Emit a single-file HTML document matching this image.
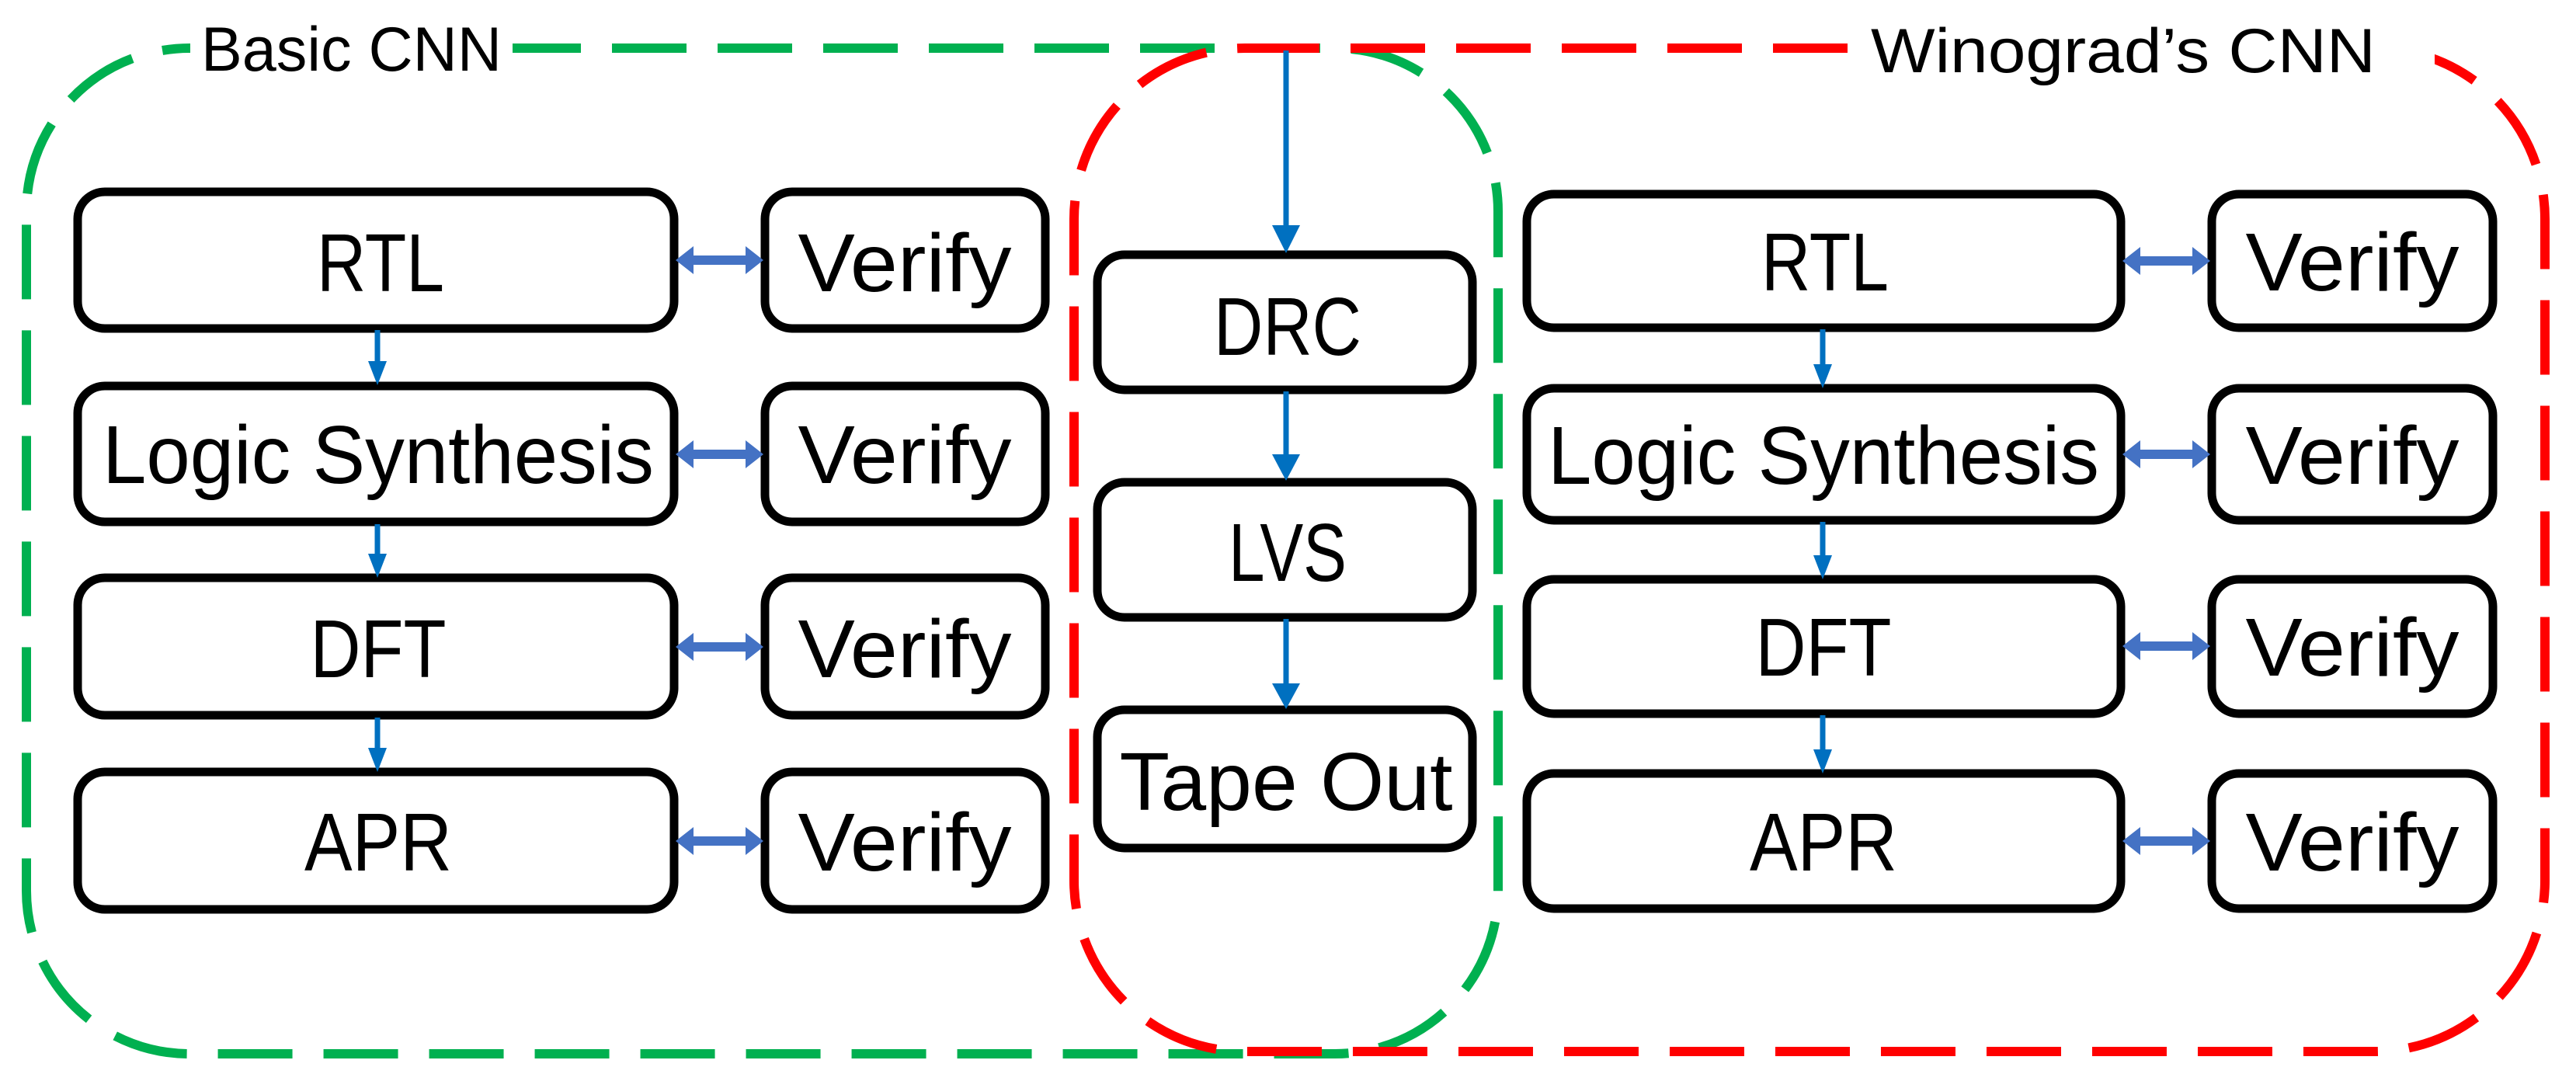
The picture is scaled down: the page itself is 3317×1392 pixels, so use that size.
<!DOCTYPE html>
<html><head><meta charset="utf-8"><style>
html,body{margin:0;padding:0;background:#fff;}
svg{display:block;}
text{font-family:"Liberation Sans",sans-serif;fill:#000;}
</style></head><body>
<svg width="3317" height="1392" viewBox="0 0 3317 1392" xmlns="http://www.w3.org/2000/svg">
<defs>
<marker id="ad" markerWidth="4" markerHeight="4" refX="2" refY="2" orient="auto" markerUnits="strokeWidth"><path d="M0,0 L4,2 L0,4 z" fill="#0070C0"/></marker>
</defs>
<!-- group boxes -->
<rect x="34" y="62" width="1895" height="1295" rx="210" ry="210" fill="none" stroke="#00B050" stroke-width="12" stroke-dasharray="96 40"/>
<rect x="1383" y="62" width="1894" height="1292" rx="220" ry="220" fill="none" stroke="#FF0000" stroke-width="12" stroke-dasharray="96 40"/>
<rect x="245" y="20" width="415" height="90" fill="#fff"/>
<rect x="2395" y="20" width="740" height="90" fill="#fff"/>
<text x="259" y="91" font-size="81" textLength="387" lengthAdjust="spacingAndGlyphs">Basic CNN</text>
<text x="2409" y="93" font-size="81" textLength="650" lengthAdjust="spacingAndGlyphs">Winograd’s CNN</text>

<g fill="#fff" stroke="#000" stroke-width="11">
<rect x="100" y="247" width="768" height="176" rx="35"/>
<rect x="985" y="247" width="361" height="176" rx="35"/>
<rect x="100" y="497" width="768" height="175" rx="35"/>
<rect x="985" y="497" width="361" height="175" rx="35"/>
<rect x="100" y="744" width="768" height="177" rx="35"/>
<rect x="985" y="744" width="361" height="177" rx="35"/>
<rect x="100" y="994" width="768" height="177" rx="35"/>
<rect x="985" y="994" width="361" height="177" rx="35"/>

<rect x="1966" y="250" width="765" height="172" rx="35"/>
<rect x="2848" y="250" width="362" height="172" rx="35"/>
<rect x="1966" y="500" width="765" height="170" rx="35"/>
<rect x="2848" y="500" width="362" height="170" rx="35"/>
<rect x="1966" y="746" width="765" height="173" rx="35"/>
<rect x="2848" y="746" width="362" height="173" rx="35"/>
<rect x="1966" y="996" width="765" height="174" rx="35"/>
<rect x="2848" y="996" width="362" height="174" rx="35"/>

<rect x="1413" y="328" width="483" height="174" rx="35"/>
<rect x="1413" y="621" width="483" height="174" rx="35"/>
<rect x="1413" y="914" width="483" height="178" rx="35"/>
</g>

<g font-size="106" text-anchor="middle">
<text x="490" y="375" textLength="164" lengthAdjust="spacingAndGlyphs">RTL</text>
<text x="487" y="622" textLength="710" lengthAdjust="spacingAndGlyphs">Logic Synthesis</text>
<text x="487" y="872" textLength="175" lengthAdjust="spacingAndGlyphs">DFT</text>
<text x="487" y="1121" textLength="190" lengthAdjust="spacingAndGlyphs">APR</text>
<text x="1165" y="375" textLength="275" lengthAdjust="spacingAndGlyphs">Verify</text>
<text x="1165" y="622" textLength="275" lengthAdjust="spacingAndGlyphs">Verify</text>
<text x="1165" y="872" textLength="275" lengthAdjust="spacingAndGlyphs">Verify</text>
<text x="1165" y="1121" textLength="275" lengthAdjust="spacingAndGlyphs">Verify</text>

<text x="2350" y="374" textLength="164" lengthAdjust="spacingAndGlyphs">RTL</text>
<text x="2348" y="623" textLength="710" lengthAdjust="spacingAndGlyphs">Logic Synthesis</text>
<text x="2348" y="870" textLength="175" lengthAdjust="spacingAndGlyphs">DFT</text>
<text x="2348" y="1121" textLength="190" lengthAdjust="spacingAndGlyphs">APR</text>
<text x="3029" y="374" textLength="275" lengthAdjust="spacingAndGlyphs">Verify</text>
<text x="3029" y="623" textLength="275" lengthAdjust="spacingAndGlyphs">Verify</text>
<text x="3029" y="870" textLength="275" lengthAdjust="spacingAndGlyphs">Verify</text>
<text x="3029" y="1121" textLength="275" lengthAdjust="spacingAndGlyphs">Verify</text>

<text x="1658" y="457" textLength="190" lengthAdjust="spacingAndGlyphs">DRC</text>
<text x="1658" y="748" textLength="152" lengthAdjust="spacingAndGlyphs">LVS</text>
<text x="1656" y="1043" textLength="429" lengthAdjust="spacingAndGlyphs">Tape Out</text>
</g>

<!-- down arrows -->
<g stroke="#0070C0" stroke-width="7" fill="#0070C0">
<line x1="486" y1="425" x2="486" y2="470"/><path d="M474,465 L498,465 L486,496 z" stroke="none"/>
<line x1="486" y1="675" x2="486" y2="718"/><path d="M474,713 L498,713 L486,744 z" stroke="none"/>
<line x1="486" y1="924" x2="486" y2="968"/><path d="M474,963 L498,963 L486,994 z" stroke="none"/>
<line x1="2347" y1="424" x2="2347" y2="474"/><path d="M2335,469 L2359,469 L2347,500 z" stroke="none"/>
<line x1="2347" y1="672" x2="2347" y2="720"/><path d="M2335,715 L2359,715 L2347,746 z" stroke="none"/>
<line x1="2347" y1="921" x2="2347" y2="970"/><path d="M2335,965 L2359,965 L2347,996 z" stroke="none"/>
<line x1="1656" y1="65" x2="1656" y2="295"/><path d="M1638,290 L1674,290 L1656,326 z" stroke="none"/>
<line x1="1656" y1="504" x2="1656" y2="590"/><path d="M1638,585 L1674,585 L1656,619 z" stroke="none"/>
<line x1="1656" y1="797" x2="1656" y2="885"/><path d="M1638,880 L1674,880 L1656,913 z" stroke="none"/>
</g>

<!-- double arrows -->
<g fill="#4472C4">
<path d="M870,335 L893,317 L893,329 L960,329 L960,317 L983,335 L960,353 L960,341 L893,341 L893,353 z"/>
<path d="M870,585 L893,567 L893,579 L960,579 L960,567 L983,585 L960,603 L960,591 L893,591 L893,603 z"/>
<path d="M870,833 L893,815 L893,827 L960,827 L960,815 L983,833 L960,851 L960,839 L893,839 L893,851 z"/>
<path d="M870,1083 L893,1065 L893,1077 L960,1077 L960,1065 L983,1083 L960,1101 L960,1089 L893,1089 L893,1101 z"/>
<path d="M2733,336 L2756,318 L2756,330 L2823,330 L2823,318 L2846,336 L2823,354 L2823,342 L2756,342 L2756,354 z"/>
<path d="M2733,585 L2756,567 L2756,579 L2823,579 L2823,567 L2846,585 L2823,603 L2823,591 L2756,591 L2756,603 z"/>
<path d="M2733,832 L2756,814 L2756,826 L2823,826 L2823,814 L2846,832 L2823,850 L2823,838 L2756,838 L2756,850 z"/>
<path d="M2733,1083 L2756,1065 L2756,1077 L2823,1077 L2823,1065 L2846,1083 L2823,1101 L2823,1089 L2756,1089 L2756,1101 z"/>
</g>
</svg>
</body></html>
